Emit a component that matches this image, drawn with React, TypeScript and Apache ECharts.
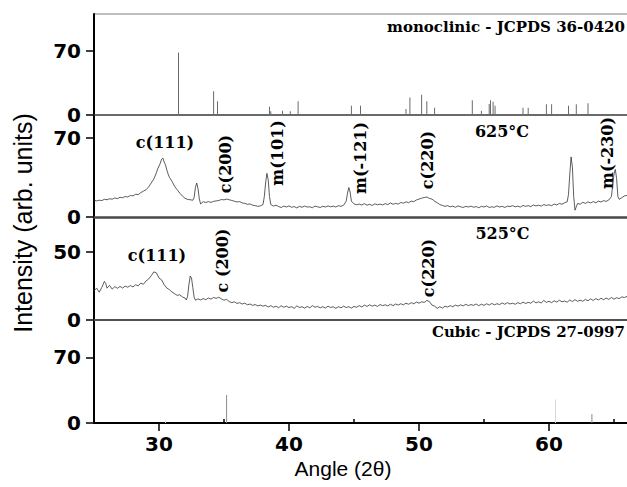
import React, { useEffect, useRef } from "react";
import * as echarts from "echarts";

// ---------- data ----------
const angleMin = 25;
const angleMax = 66;
const xTickLabels = [30, 40, 50, 60];
const xMinorTicks = [25, 35, 45, 55, 65];

// monoclinic reference pattern (JCPDS 36-0420)
const monoclinicAngles = [31.5, 34.2, 34.5, 38.5, 38.6, 39.5, 40.1, 40.7, 41.6, 44.8, 45.5, 49.0, 49.3, 50.2, 50.6, 51.2, 54.1, 54.8, 55.4, 55.5, 55.7, 55.85, 58.0, 58.4, 59.8, 60.2, 61.5, 62.1, 63.0];
const monoclinicIntensities = [68, 26, 15, 9, 4, 4.5, 4, 15, 1, 10, 10, 6.5, 19, 22, 15, 8, 16, 4.5, 12, 16, 14.5, 10, 8, 8, 11.7, 11.7, 10, 11.7, 12.8];

// cubic reference pattern (JCPDS 27-0997)
const cubicAngles = [35.2, 63.3];
const cubicIntensities = [30, 9.5];
const cubicFaintAngles = [30.5, 60.5];
const cubicFaintIntensities = [3, 25];

// measured patterns [angle, intensity]
const xrd625: [number, number][] = [
  [25.0, 15], [25.2, 14.2], [25.4, 14.8], [25.6, 14.5], [25.8, 15.6], [26.0, 15.2], [26.2, 16.1], [26.4, 15.7], [26.6, 16.8], [26.8, 16.2],
  [27.0, 17.4], [27.2, 17.0], [27.4, 18.1], [27.6, 17.6], [27.8, 19.0], [28.0, 18.6], [28.2, 20.1], [28.4, 19.7], [28.6, 21.5], [28.8, 22.8],
  [29.0, 24.0], [29.2, 26.5], [29.4, 30.0], [29.6, 33.5], [29.8, 39.0], [29.9, 42.5], [30.0, 45.0], [30.1, 47.5], [30.2, 51.0], [30.3, 52.0],
  [30.4, 48.5], [30.5, 46.0], [30.6, 41.5], [30.7, 38.0], [30.8, 35.0], [31.0, 31.5], [31.2, 27.0], [31.4, 24.0], [31.6, 21.0], [31.8, 18.5],
  [32.0, 16.5], [32.2, 15.5], [32.4, 15.2], [32.6, 14.8], [32.7, 17.0], [32.8, 26.0], [32.9, 30.0], [33.0, 25.0], [33.1, 16.0], [33.2, 11.5],
  [33.4, 13.5], [33.6, 12.8], [33.8, 13.6], [34.0, 12.9], [34.2, 13.8], [34.4, 14.2], [34.6, 14.6], [34.8, 15.4], [35.0, 15.1], [35.2, 15.8],
  [35.4, 15.2], [35.6, 14.6], [35.8, 13.9], [36.0, 13.2], [36.2, 13.6], [36.4, 12.4], [36.6, 12.0], [36.8, 11.2], [37.0, 11.5], [37.2, 10.4],
  [37.4, 10.0], [37.6, 9.4], [37.8, 9.8], [38.0, 11.0], [38.1, 18.0], [38.2, 30.0], [38.3, 38.5], [38.4, 33.0], [38.5, 18.0], [38.6, 11.0],
  [38.8, 9.6], [39.0, 10.4], [39.2, 9.2], [39.4, 8.4], [39.6, 9.6], [39.8, 8.8], [40.0, 9.8], [40.2, 8.6], [40.4, 9.2], [40.6, 8.0],
  [40.8, 9.4], [41.0, 8.6], [41.2, 9.6], [41.4, 8.8], [41.6, 9.0], [41.8, 8.2], [42.0, 9.6], [42.2, 9.0], [42.4, 8.4], [42.6, 9.4],
  [42.8, 8.8], [43.0, 9.8], [43.2, 9.0], [43.4, 9.6], [43.6, 8.8], [43.8, 10.0], [44.0, 9.4], [44.2, 10.4], [44.4, 14.0], [44.5, 21.0],
  [44.6, 26.0], [44.7, 22.0], [44.8, 14.0], [45.0, 11.6], [45.2, 10.8], [45.4, 11.4], [45.6, 10.6], [45.8, 11.8], [46.0, 10.4], [46.2, 11.2],
  [46.4, 10.2], [46.6, 11.6], [46.8, 10.8], [47.0, 11.4], [47.2, 10.6], [47.4, 11.8], [47.6, 11.0], [47.8, 12.4], [48.0, 11.2], [48.2, 12.0],
  [48.4, 11.4], [48.6, 12.8], [48.8, 12.2], [49.0, 13.4], [49.2, 12.6], [49.4, 14.0], [49.6, 13.6], [49.8, 15.0], [50.0, 15.8], [50.2, 16.6],
  [50.4, 17.2], [50.6, 17.6], [50.8, 16.4], [51.0, 15.8], [51.2, 14.0], [51.4, 12.6], [51.6, 11.0], [51.8, 10.2], [52.0, 9.4], [52.2, 10.0],
  [52.4, 9.0], [52.6, 9.6], [52.8, 8.6], [53.0, 9.8], [53.2, 9.0], [53.4, 8.4], [53.6, 9.4], [53.8, 8.8], [54.0, 9.6], [54.2, 8.6],
  [54.4, 9.2], [54.6, 8.2], [54.8, 9.4], [55.0, 8.8], [55.2, 9.8], [55.4, 8.4], [55.6, 9.0], [55.8, 8.6], [56.0, 9.8], [56.2, 8.8],
  [56.4, 9.4], [56.6, 8.4], [56.8, 9.6], [57.0, 9.2], [57.2, 10.0], [57.4, 9.0], [57.6, 9.6], [57.8, 8.8], [58.0, 10.2], [58.2, 9.4],
  [58.4, 10.0], [58.6, 9.2], [58.8, 10.6], [59.0, 9.8], [59.2, 10.4], [59.4, 9.6], [59.6, 11.0], [59.8, 10.2], [60.0, 10.8], [60.2, 10.0],
  [60.4, 11.4], [60.6, 10.6], [60.8, 12.0], [61.0, 11.2], [61.2, 12.6], [61.4, 13.4], [61.5, 20.0], [61.6, 38.0], [61.7, 53.0], [61.8, 44.0],
  [61.9, 18.0], [62.0, 6.0], [62.1, 9.0], [62.2, 12.0], [62.4, 11.2], [62.6, 13.0], [62.8, 12.0], [63.0, 13.4], [63.2, 12.4], [63.4, 13.6],
  [63.6, 12.6], [63.8, 14.0], [64.0, 13.2], [64.2, 14.4], [64.4, 13.8], [64.6, 15.0], [64.8, 18.0], [64.9, 28.0], [65.0, 38.0], [65.1, 42.0],
  [65.2, 34.0], [65.3, 18.0], [65.4, 15.6], [65.6, 17.0], [65.8, 18.6], [66.0, 19.0],
];

const xrd525: [number, number][] = [
  [25.0, 21.5], [25.2, 23.5], [25.4, 20.5], [25.6, 24.0], [25.8, 28.5], [25.9, 27.0], [26.0, 23.5], [26.2, 25.5], [26.4, 22.8], [26.6, 24.6],
  [26.8, 23.4], [27.0, 24.8], [27.2, 23.6], [27.4, 25.0], [27.6, 24.2], [27.8, 25.4], [28.0, 24.4], [28.2, 26.0], [28.4, 25.2], [28.6, 27.2],
  [28.8, 26.4], [29.0, 28.8], [29.2, 30.2], [29.4, 32.6], [29.6, 35.5], [29.8, 34.8], [30.0, 31.0], [30.2, 29.6], [30.4, 26.0], [30.6, 23.6],
  [30.8, 22.4], [31.0, 20.6], [31.2, 19.4], [31.4, 18.2], [31.6, 18.6], [31.8, 17.0], [32.0, 16.2], [32.1, 14.8], [32.2, 17.5], [32.3, 26.0],
  [32.4, 32.5], [32.5, 31.0], [32.6, 24.0], [32.7, 17.0], [32.8, 14.6], [33.0, 15.6], [33.2, 14.8], [33.4, 15.8], [33.6, 15.0], [33.8, 16.2],
  [34.0, 15.4], [34.2, 16.6], [34.4, 16.0], [34.6, 16.8], [34.8, 15.6], [35.0, 14.6], [35.2, 15.2], [35.4, 13.6], [35.6, 12.8], [35.8, 13.4],
  [36.0, 12.2], [36.2, 12.8], [36.4, 11.8], [36.6, 12.4], [36.8, 11.2], [37.0, 11.8], [37.2, 10.8], [37.4, 11.4], [37.6, 10.4], [37.8, 11.0],
  [38.0, 10.2], [38.2, 10.8], [38.4, 9.6], [38.6, 10.6], [38.8, 9.4], [39.0, 10.2], [39.2, 9.0], [39.4, 10.6], [39.6, 9.4], [39.8, 10.2],
  [40.0, 9.2], [40.2, 9.8], [40.4, 8.6], [40.6, 10.4], [40.8, 9.2], [41.0, 9.8], [41.2, 8.8], [41.4, 10.0], [41.6, 9.0], [41.8, 10.6],
  [42.0, 9.4], [42.2, 10.0], [42.4, 9.0], [42.6, 9.8], [42.8, 8.8], [43.0, 10.2], [43.2, 9.2], [43.4, 9.8], [43.6, 8.6], [43.8, 9.8],
  [44.0, 9.0], [44.2, 10.2], [44.4, 9.2], [44.6, 9.8], [44.8, 8.8], [45.0, 10.0], [45.2, 9.4], [45.4, 10.6], [45.6, 9.6], [45.8, 11.0],
  [46.0, 10.0], [46.2, 11.2], [46.4, 10.2], [46.6, 11.0], [46.8, 10.0], [47.0, 11.4], [47.2, 10.6], [47.4, 11.2], [47.6, 10.4], [47.8, 11.6],
  [48.0, 10.6], [48.2, 11.8], [48.4, 11.0], [48.6, 12.0], [48.8, 11.2], [49.0, 12.4], [49.2, 11.6], [49.4, 12.8], [49.6, 12.0], [49.8, 13.2],
  [50.0, 12.4], [50.2, 13.4], [50.4, 13.0], [50.6, 14.4], [50.8, 13.6], [51.0, 11.0], [51.2, 10.2], [51.4, 8.6], [51.6, 9.8], [51.8, 8.8],
  [52.0, 10.2], [52.2, 9.6], [52.4, 10.6], [52.6, 9.8], [52.8, 11.0], [53.0, 10.2], [53.2, 11.2], [53.4, 10.4], [53.6, 11.6], [53.8, 10.6],
  [54.0, 11.4], [54.2, 10.8], [54.4, 11.8], [54.6, 10.6], [54.8, 11.6], [55.0, 10.8], [55.2, 12.0], [55.4, 11.0], [55.6, 12.2], [55.8, 11.2],
  [56.0, 12.0], [56.2, 11.4], [56.4, 12.6], [56.6, 11.6], [56.8, 12.8], [57.0, 11.8], [57.2, 12.4], [57.4, 11.6], [57.6, 12.8], [57.8, 12.0],
  [58.0, 13.2], [58.2, 12.2], [58.4, 13.0], [58.6, 12.4], [58.8, 14.0], [59.0, 12.6], [59.2, 13.4], [59.4, 12.6], [59.6, 14.4], [59.8, 13.0],
  [60.0, 13.8], [60.2, 12.8], [60.4, 14.2], [60.6, 13.2], [60.8, 14.6], [61.0, 13.4], [61.2, 14.0], [61.4, 13.2], [61.6, 14.8], [61.8, 13.6],
  [62.0, 15.0], [62.2, 13.8], [62.4, 14.6], [62.6, 13.8], [62.8, 15.2], [63.0, 14.2], [63.2, 15.6], [63.4, 14.4], [63.6, 15.8], [63.8, 14.8],
  [64.0, 16.0], [64.2, 15.0], [64.4, 16.2], [64.6, 15.2], [64.8, 16.6], [65.0, 15.4], [65.2, 16.4], [65.4, 15.8], [65.6, 17.0], [65.8, 16.6],
  [66.0, 17.4],
];

// per-panel y scales and tick labels (top to bottom)
const panelMax = [110, 90, 76, 110];
const panelMajorTicks = [[0, 70], [0, 70], [0, 50], [0, 70]];
const panelMinorTicks = [[35, 105], [35], [25, 75], [35, 105]];

const xTitle = "Angle (2\u03b8)";
const yTitle = "Intensity (arb. units)";

// ---------- layout / style ----------
const W = 627;
const H = 487;
const LEFT = 94;
const panels = [
  { top: 14, height: 101 },
  { top: 115, height: 102 },
  { top: 217, height: 103 },
  { top: 320, height: 103 },
];
const sepStyle = [
  { color: "#3a3a3a", width: 1.5 },
  { color: "#4a4a4a", width: 2.5 },
  { color: "#505050", width: 2 },
  { color: "#000000", width: 2 },
];
const tickFont = { fontFamily: "DejaVu Sans", fontWeight: "bold" as const, fontSize: 20, color: "#000" };
const annFont = "bold 16px 'DejaVu Serif'";
const refFont = "bold 15px 'DejaVu Serif'";

function ann(text: string, x: number, y: number, rotated = false, align = "center", font = annFont) {
  return {
    type: "text",
    x,
    y,
    rotation: rotated ? Math.PI / 2 : 0,
    style: { text, font, fill: "#000", align, verticalAlign: "middle" },
    silent: true,
  };
}

export default function App() {
  const ref = useRef<HTMLDivElement>(null);
  useEffect(() => {
    if (!ref.current) return;
    const chart = echarts.init(ref.current, undefined, { renderer: "svg" });

    const grid = panels.map((p) => ({ left: LEFT, width: W - LEFT, top: p.top, height: p.height }));

    const xAxis: any[] = panels.map((_, i) => ({
      gridIndex: i,
      type: "value",
      min: angleMin,
      max: angleMax,
      axisLine: { show: true, onZero: false, lineStyle: sepStyle[i] },
      axisTick: i === 3
        ? { show: true, customValues: xTickLabels, length: 8, lineStyle: { color: "#000", width: 1.5 } }
        : { show: false },
      axisLabel: i === 3
        ? { show: true, customValues: xTickLabels, margin: 11, ...tickFont }
        : { show: false },
      splitLine: { show: false },
    }));
    xAxis.push({
      gridIndex: 3,
      type: "value",
      min: angleMin,
      max: angleMax,
      axisLine: { show: false },
      axisTick: { show: true, customValues: xMinorTicks, length: 4, lineStyle: { color: "#000", width: 1.5 } },
      axisLabel: { show: false },
      splitLine: { show: false },
    });

    const yAxis: any[] = [];
    panels.forEach((_, i) => {
      yAxis.push({
        gridIndex: i,
        type: "value",
        min: 0,
        max: panelMax[i],
        axisLine: { show: true, lineStyle: { color: "#000", width: 2 } },
        axisTick: { show: true, customValues: panelMajorTicks[i], length: 8, lineStyle: { color: "#000", width: 1.5 } },
        axisLabel: { show: true, customValues: panelMajorTicks[i], margin: 13, ...tickFont },
        splitLine: { show: false },
      });
    });
    panels.forEach((_, i) => {
      yAxis.push({
        gridIndex: i,
        type: "value",
        min: 0,
        max: panelMax[i],
        axisLine: { show: false },
        axisTick: { show: true, customValues: panelMinorTicks[i], length: 4, lineStyle: { color: "#000", width: 1.5 } },
        axisLabel: { show: false },
        splitLine: { show: false },
      });
    });

    const monoData = monoclinicAngles.map((a, k) => [a, monoclinicIntensities[k]]);
    const cubicData: any[] = [
      ...cubicAngles.map((a, k) => ({ value: [a, cubicIntensities[k]] })),
      ...cubicFaintAngles.map((a, k) => ({ value: [a, cubicFaintIntensities[k]], itemStyle: { color: "#d8d8d8" } })),
    ];

    chart.setOption({
      animation: false,
      backgroundColor: "#fff",
      grid,
      xAxis,
      yAxis,
      series: [
        { type: "bar", xAxisIndex: 0, yAxisIndex: 0, data: monoData, barWidth: 1, itemStyle: { color: "#6a6a6a" }, silent: true },
        { type: "line", xAxisIndex: 1, yAxisIndex: 1, data: xrd625, showSymbol: false, lineStyle: { color: "#333", width: 0.8 }, silent: true },
        { type: "line", xAxisIndex: 2, yAxisIndex: 2, data: xrd525, showSymbol: false, lineStyle: { color: "#333", width: 0.8 }, silent: true },
        { type: "bar", xAxisIndex: 3, yAxisIndex: 3, data: cubicData, barWidth: 1, itemStyle: { color: "#8a8a8a" }, silent: true },
      ],
      graphic: [
        { type: "line", shape: { x1: LEFT, y1: 14, x2: W, y2: 14 }, style: { stroke: "#a8a8a8", lineWidth: 1.5 }, silent: true },
        ann("monoclinic - JCPDS 36-0420", 625, 27, false, "right", refFont),
        ann("c(111)", 165, 142),
        ann("c(200)", 225, 164, true),
        ann("m(101)", 277, 153, true),
        ann("m(-121)", 360, 158, true),
        ann("c(220)", 427.5, 160, true),
        ann("625\u00b0C", 502, 131),
        ann("m(-230)", 607.5, 153, true),
        ann("c(111)", 157, 255),
        ann("c (200)", 222, 260.5, true),
        ann("c(220)", 428.5, 268, true),
        ann("525\u00b0C", 502.5, 233),
        ann("Cubic - JCPDS 27-0997", 625, 332, false, "right", refFont),
        ann(xTitle, 343, 468, false, "center", "21px 'Liberation Sans'"),
        ann(yTitle, 23, 223, true, "center", "25px 'Liberation Sans'"),
      ],
    });
    return () => chart.dispose();
  }, []);
  return <div ref={ref} style={{ position: "fixed", left: 0, top: 0, width: W, height: H, background: "#fff" }} />;
}
